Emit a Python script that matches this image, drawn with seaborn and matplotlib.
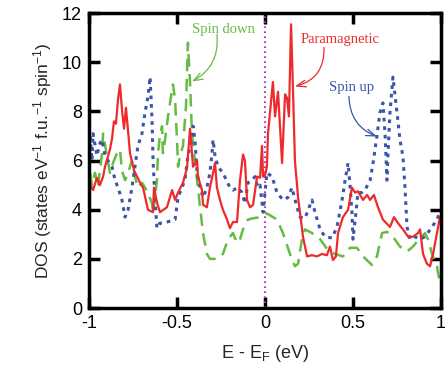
import numpy as np
import pandas as pd
import matplotlib
matplotlib.use("Agg")
import matplotlib.pyplot as plt
import seaborn as sns

# ---- data ----
para_E = [-1.000, -0.977, -0.955, -0.938, -0.920, -0.909, -0.881, -0.869, -0.858, -0.847,
          -0.835, -0.824, -0.813, -0.801, -0.790, -0.778, -0.767, -0.744, -0.710, -0.693,
          -0.665, -0.636, -0.631, -0.614, -0.597, -0.557, -0.528, -0.511, -0.494, -0.466,
          -0.443, -0.426, -0.409, -0.386, -0.381, -0.358, -0.352, -0.330, -0.313, -0.295,
          -0.284, -0.273, -0.256, -0.239, -0.216, -0.199, -0.182, -0.159, -0.142, -0.125,
          -0.114, -0.102, -0.085, -0.068, -0.045, -0.028, -0.017, -0.011, 0.000, 0.011,
          0.017, 0.045, 0.057, 0.074, 0.097, 0.114, 0.125, 0.136, 0.148, 0.159,
          0.170, 0.188, 0.216, 0.239, 0.267, 0.295, 0.324, 0.352, 0.369, 0.386,
          0.403, 0.415, 0.443, 0.472, 0.494, 0.511, 0.528, 0.557, 0.580, 0.597,
          0.619, 0.642, 0.670, 0.710, 0.733, 0.756, 0.784, 0.813, 0.841, 0.869,
          0.881, 0.898, 0.920, 0.938, 0.955, 0.977, 0.994]
para_DOS = [5.1, 4.8, 5.3, 5.0, 5.35, 5.75, 6.45, 6.9, 7.6, 7.5,
            8.5, 9.1, 8.1, 7.3, 8.15, 7.2, 6.3, 5.6, 5.1, 4.9,
            4.0, 3.9, 4.9, 4.3, 3.9, 4.1, 4.8, 4.4, 4.7, 5.1,
            5.7, 7.3, 5.75, 6.0, 5.35, 4.8, 4.2, 4.1, 4.9, 5.5,
            5.9, 4.9, 4.4, 4.0, 3.6, 3.25, 3.5, 3.5, 5.2, 6.25,
            6.0, 4.4, 4.1, 4.2, 5.35, 5.3, 6.6, 5.35, 5.4, 5.75,
            7.1, 9.2, 7.8, 8.8, 5.9, 8.7, 8.55, 7.8, 11.55, 8.9,
            6.0, 4.5, 2.9, 2.1, 2.15, 2.1, 2.2, 2.15, 2.5, 1.95,
            2.1, 3.05, 3.7, 4.0, 4.9, 4.7, 4.75, 4.4, 4.6, 4.4,
            4.6, 4.1, 3.6, 3.3, 3.7, 3.45, 3.2, 2.9, 2.9, 3.05,
            3.2, 2.2, 1.8, 1.7, 2.2, 3.05, 3.7]

up_E = [-0.994, -0.983, -0.977, -0.955, -0.938, -0.926, -0.909, -0.892, -0.869, -0.852,
        -0.835, -0.813, -0.795, -0.778, -0.756, -0.739, -0.722, -0.699, -0.682, -0.665,
        -0.653, -0.642, -0.636, -0.625, -0.614, -0.597, -0.557, -0.511, -0.494, -0.472,
        -0.455, -0.438, -0.415, -0.409, -0.398, -0.386, -0.369, -0.352, -0.330, -0.313,
        -0.301, -0.295, -0.284, -0.267, -0.239, -0.199, -0.182, -0.153, -0.131, -0.114,
        -0.097, -0.074, -0.057, -0.040, -0.028, -0.011, 0.011, 0.040, 0.068, 0.102,
        0.131, 0.153, 0.182, 0.199, 0.227, 0.267, 0.284, 0.313, 0.341, 0.381,
        0.409, 0.438, 0.455, 0.472, 0.483, 0.494, 0.500, 0.517, 0.528, 0.551,
        0.568, 0.597, 0.614, 0.636, 0.653, 0.670, 0.682, 0.693, 0.699, 0.710,
        0.727, 0.750, 0.767, 0.784, 0.795, 0.807, 0.824, 0.852, 0.881, 0.909,
        0.949, 0.977, 0.994]
up_DOS = [7.0, 6.0, 7.1, 6.2, 6.7, 6.85, 6.2, 6.0, 5.75, 5.2,
          4.9, 4.4, 3.7, 4.0, 4.9, 5.75, 6.6, 7.1, 7.95, 8.6,
          9.4, 7.7, 6.0, 4.4, 3.25, 3.45, 3.5, 3.6, 4.5, 4.9,
          5.2, 6.2, 6.85, 7.4, 6.85, 5.5, 4.9, 4.5, 4.9, 5.5,
          6.3, 6.85, 6.2, 5.75, 5.5, 4.9, 4.8, 4.9, 4.7, 4.25,
          5.1, 5.2, 5.35, 4.9, 5.0, 3.9, 5.5, 5.35, 4.7, 4.4,
          4.5, 4.9, 4.1, 3.7, 3.65, 4.4, 3.9, 3.2, 2.9, 2.85,
          3.3, 4.4, 5.2, 5.9, 5.0, 3.9, 2.8, 3.9, 4.7, 4.7,
          4.8, 5.2, 5.9, 7.0, 7.95, 8.35, 7.1, 5.2, 6.3, 7.95,
          9.4, 7.95, 6.85, 6.15, 4.95, 3.3, 2.8, 2.9, 2.8, 2.9,
          3.3, 3.6, 3.9]

down_E = [-0.994, -0.983, -0.966, -0.949, -0.926, -0.920, -0.898, -0.881, -0.864, -0.841,
          -0.824, -0.813, -0.795, -0.778, -0.756, -0.739, -0.722, -0.699, -0.682, -0.665,
          -0.642, -0.636, -0.614, -0.608, -0.597, -0.585, -0.580, -0.568, -0.551, -0.528,
          -0.523, -0.511, -0.500, -0.494, -0.483, -0.466, -0.449, -0.438, -0.426, -0.415,
          -0.409, -0.398, -0.386, -0.369, -0.352, -0.330, -0.313, -0.273, -0.239, -0.210,
          -0.182, -0.159, -0.142, -0.125, -0.097, -0.068, -0.028, 0.011, 0.068, 0.102,
          0.142, 0.170, 0.188, 0.210, 0.227, 0.267, 0.313, 0.358, 0.398, 0.443,
          0.483, 0.523, 0.557, 0.608, 0.636, 0.665, 0.693, 0.727, 0.767, 0.807,
          0.841, 0.881, 0.909, 0.926, 0.949, 0.977, 0.994]
down_DOS = [5.5, 5.0, 5.5, 4.95, 6.3, 7.1, 6.2, 5.5, 5.9, 6.3,
            6.45, 5.6, 5.2, 5.5, 6.0, 5.35, 4.9, 5.1, 4.9, 4.7,
            4.25, 3.85, 5.2, 6.3, 7.0, 7.4, 6.3, 6.85, 7.8, 8.9,
            9.1, 8.5, 6.85, 5.75, 6.2, 6.6, 8.2, 10.8, 9.2, 7.1,
            6.7, 6.0, 5.2, 4.1, 3.05, 2.2, 2.0, 2.0, 2.2, 2.8,
            3.05, 2.65, 2.8, 3.2, 3.6, 3.65, 3.7, 3.85, 3.6, 3.05,
            2.2, 1.7, 1.8, 2.8, 3.2, 3.05, 2.8, 2.35, 2.2, 2.1,
            2.45, 2.45, 2.1, 1.75, 2.1, 3.05, 3.1, 2.9, 2.5, 2.3,
            2.5, 2.85, 3.05, 2.8, 2.2, 1.7, 1.0]

x_ticks = [-1, -0.5, 0, 0.5, 1]
x_ticklabels = ["-1", "-0.5", "0", "0.5", "1"]
y_ticks = [0, 2, 4, 6, 8, 10, 12]

labels = ["Spin down", "Paramagnetic", "Spin up"]
label_pos = [(-0.236, 11.35), (0.426, 10.94), (0.494, 8.98)]
arrow_start = [(-0.273, 11.14), (0.335, 10.61), (0.477, 8.61)]
arrow_tip = [(-0.415, 9.22), (0.170, 9.02), (0.636, 6.98)]

# ---- plot ----
sns.set_theme(style="ticks")
plt.rcParams['font.family'] = ['Liberation Sans', 'DejaVu Sans']
plt.rcParams['mathtext.fontset'] = 'custom'
plt.rcParams['mathtext.rm'] = 'Liberation Sans'
plt.rcParams['mathtext.it'] = 'Liberation Sans'

fig = plt.figure(figsize=(4.45, 3.77), dpi=100)
ax = fig.add_axes([0.200, 0.183, 0.791, 0.782])

red = "#ee2a2a"
blue = "#3b55a8"
green = "#66bb44"

sns.lineplot(x=down_E, y=down_DOS, ax=ax, color=green, lw=1.8, sort=False,
             estimator=None)
ax.lines[-1].set_dashes([5, 3])
sns.lineplot(x=up_E, y=up_DOS, ax=ax, color=blue, lw=2.2, sort=False,
             estimator=None)
ax.lines[-1].set_dashes([1.2, 1.6])
sns.lineplot(x=para_E, y=para_DOS, ax=ax, color=red, lw=1.6, sort=False,
             estimator=None)

ax.axvline(0, color="#b03cb0", lw=1.5, ls=(0, (0.8, 1.6)), zorder=1)

ax.set_xlim(-1, 1)
ax.set_ylim(0, 12)
ax.set_xticks(x_ticks)
ax.set_xticklabels(x_ticklabels)
ax.set_yticks(y_ticks)
ax.tick_params(direction="in", length=8, width=2.5, labelsize=13,
               top=True, right=True, pad=5, color="black", labelcolor="black")
for s in ax.spines.values():
    s.set_linewidth(2.5)
    s.set_color("black")

ax.set_xlabel("E - E$_F$ (eV)", fontsize=13, labelpad=8)
ax.set_ylabel("DOS (states eV$^{-1}$ f.u.$^{-1}$ spin$^{-1}$)", fontsize=12.5, labelpad=6)

serif = ['Liberation Serif', 'DejaVu Serif']
colors = [green, red, blue]
rads = [-0.33, -0.4, 0.33]
for lab, pos, st, tip, c, r in zip(labels, label_pos, arrow_start, arrow_tip, colors, rads):
    ax.text(pos[0], pos[1], lab, ha="center", va="center", fontsize=10.5,
            family=serif, color=c)
    ax.annotate("", xy=tip, xytext=st,
                arrowprops=dict(arrowstyle="->,head_length=0.55,head_width=0.2",
                                color=c, lw=0.9,
                                connectionstyle=f"arc3,rad={r}",
                                shrinkA=0, shrinkB=0))

fig.savefig("out.png", dpi=100)
